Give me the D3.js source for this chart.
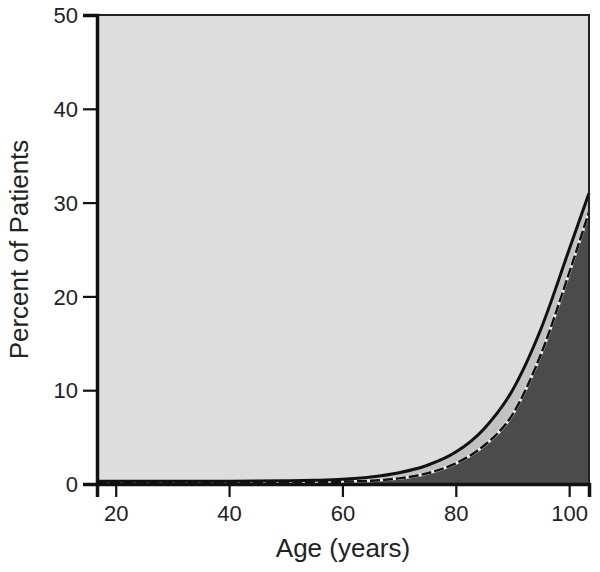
<!DOCTYPE html>
<html>
<head>
<meta charset="utf-8">
<script src="https://cdn.jsdelivr.net/npm/d3@7"></script>
<style>
  body { margin: 0; background: #fff; }
  svg text { font-family: "Liberation Sans", Arial, sans-serif; fill: #222; }
</style>
</head>
<body>
<div id="chart"></div>
<script>
// values
const ages = [16.7, 30, 40, 50, 55, 60, 65, 70, 75, 80, 85, 90, 95, 100, 103.5];
const upperPct = [0.3, 0.3, 0.3, 0.35, 0.4, 0.5, 0.75, 1.2, 2.0, 3.4, 5.9, 10.0, 16.5, 25, 31];
const lowerPct = [0.2, 0.2, 0.2, 0.2, 0.22, 0.25, 0.35, 0.6, 1.15, 2.2, 4.1, 7.4, 13.8, 22.5, 29];
const xTicks = [20, 40, 60, 80, 100];
const yTicks = [0, 10, 20, 30, 40, 50];

const width = 600, height = 572;
const margin = { top: 15, right: 11, bottom: 88, left: 97 };

const svg = d3.select('#chart').append('svg')
    .attr('width', width)
    .attr('height', height);

const x = d3.scaleLinear()
    .domain([16.7, 103.5])
    .range([margin.left, width - margin.right]);

const y = d3.scaleLinear()
    .domain([0, 50])
    .range([height - margin.bottom, margin.top]);

const rows = ages.map((a, i) => ({ age: a, up: upperPct[i], lo: lowerPct[i] }));

// plot background
svg.append('rect')
    .attr('x', x(16.7)).attr('y', y(50))
    .attr('width', x(103.5) - x(16.7))
    .attr('height', y(0) - y(50))
    .attr('fill', '#dddddd');

const curve = d3.curveMonotoneX;

// band between the two curves
svg.append('path')
    .datum(rows)
    .attr('fill', '#c2c2c2')
    .attr('d', d3.area().curve(curve)
        .x(d => x(d.age)).y0(d => y(d.lo)).y1(d => y(d.up)));

// dark area under lower curve
svg.append('path')
    .datum(rows)
    .attr('fill', '#4b4b4b')
    .attr('d', d3.area().curve(curve)
        .x(d => x(d.age)).y0(y(0)).y1(d => y(d.lo)));

// lower curve: light underlay + dashed black
const lowerLine = d3.line().curve(curve).x(d => x(d.age)).y(d => y(d.lo));
svg.append('path').datum(rows)
    .attr('fill', 'none').attr('stroke', '#eee').attr('stroke-width', 3)
    .attr('d', lowerLine);
svg.append('path').datum(rows)
    .attr('fill', 'none').attr('stroke', '#111').attr('stroke-width', 2.5)
    .attr('stroke-dasharray', '10,3')
    .attr('d', lowerLine);

// upper curve
svg.append('path').datum(rows)
    .attr('fill', 'none').attr('stroke', '#111').attr('stroke-width', 3)
    .attr('d', d3.line().curve(curve).x(d => x(d.age)).y(d => y(d.up)));

// frame
svg.append('rect')
    .attr('x', x(16.7)).attr('y', y(50))
    .attr('width', x(103.5) - x(16.7))
    .attr('height', y(0) - y(50))
    .attr('fill', 'none')
    .attr('stroke', '#222')
    .attr('stroke-width', 2);

// axes
const xAxis = svg.append('g')
    .attr('transform', `translate(0,${y(0)})`)
    .call(d3.axisBottom(x).tickValues(xTicks).tickSize(13).tickPadding(8));
const yAxis = svg.append('g')
    .attr('transform', `translate(${x(16.7)},0)`)
    .call(d3.axisLeft(y).tickValues(yTicks).tickSize(14).tickPadding(5));

[xAxis, yAxis].forEach(g => {
    g.select('.domain').attr('stroke', '#111').attr('stroke-width', 3.5);
    g.selectAll('.tick line').attr('stroke', '#111').attr('stroke-width', 2.2);
    g.selectAll('.tick text').style('font-size', '22px').attr('fill', '#222');
});
yAxis.selectAll('.tick text').attr('dy', '0.35em');

// axis titles
svg.append('text')
    .attr('x', (x(16.7) + x(103.5)) / 2)
    .attr('y', 557)
    .attr('text-anchor', 'middle')
    .style('font-size', '26px')
    .text('Age (years)');

svg.append('text')
    .attr('transform', `translate(28,${(y(0) + y(50)) / 2}) rotate(-90)`)
    .attr('text-anchor', 'middle')
    .style('font-size', '26px')
    .text('Percent of Patients');
</script>
</body>
</html>
